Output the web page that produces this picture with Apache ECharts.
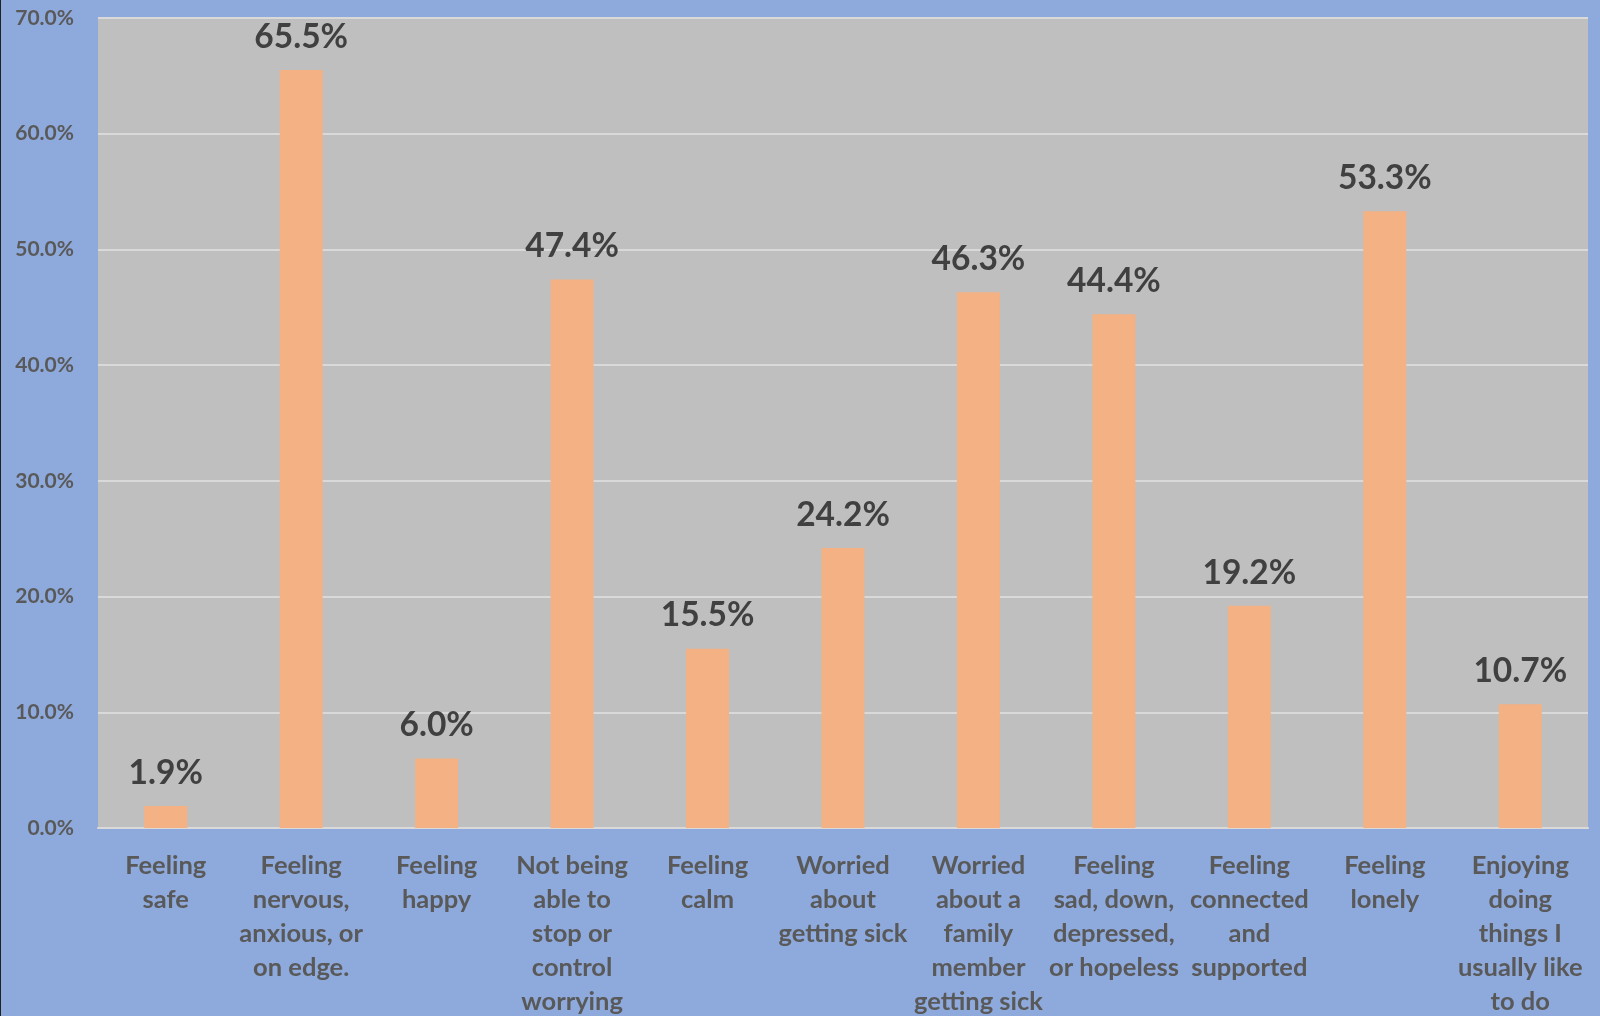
<!DOCTYPE html>
<html>
<head>
<meta charset="utf-8">
<script src="https://cdn.jsdelivr.net/npm/echarts@6/dist/echarts.min.js"></script>
<style>
html,body{margin:0;padding:0;background:#8EA9DB;}
#chart{width:1600px;height:1016px;}
</style>
</head>
<body>
<div id="chart"></div>
<script>
const categories = [
  "Feeling\nsafe",
  "Feeling\nnervous,\nanxious, or\non edge.",
  "Feeling\nhappy",
  "Not being\nable to\nstop or\ncontrol\nworrying",
  "Feeling\ncalm",
  "Worried\nabout\ngetting sick",
  "Worried\nabout a\nfamily\nmember\ngetting sick",
  "Feeling\nsad, down,\ndepressed,\nor hopeless",
  "Feeling\nconnected\nand\nsupported",
  "Feeling\nlonely",
  "Enjoying\ndoing\nthings I\nusually like\nto do"
];
const values = [1.9, 65.5, 6.0, 47.4, 15.5, 24.2, 46.3, 44.4, 19.2, 53.3, 10.7];
const yMin = 0, yMax = 70, yStep = 10;

const FONT = 'Lato, "Open Sans", sans-serif';
const chart = echarts.init(document.getElementById('chart'));
chart.setOption({
  backgroundColor: '#8EA9DB',
  animation: false,
  grid: {
    left: 98, right: 12, top: 18, bottom: 188,
    containLabel: false,
    outerBoundsMode: 'none',
    show: true, backgroundColor: '#BFBFBF', borderWidth: 0
  },
  xAxis: {
    type: 'category',
    data: categories,
    axisLine: { show: true, lineStyle: { color: '#D9D9D9', width: 2 } },
    axisTick: { show: false },
    axisLabel: {
      interval: 0,
      margin: 21,
      color: '#595959',
      fontFamily: FONT,
      fontWeight: 'bold',
      fontSize: 25.5,
      lineHeight: 34,
      align: 'center'
    }
  },
  yAxis: {
    type: 'value',
    min: yMin, max: yMax, interval: yStep,
    axisLine: { show: false },
    axisTick: { show: false },
    splitLine: { lineStyle: { color: '#D9D9D9', width: 2 } },
    axisLabel: {
      margin: 24,
      color: '#595959',
      fontFamily: FONT,
      fontWeight: 'bold',
      fontSize: 21,
      formatter: v => v.toFixed(1) + '%'
    }
  },
  series: [{
    type: 'bar',
    data: values,
    barWidth: 43,
    itemStyle: { color: '#F4B183' },
    label: {
      show: true,
      position: 'top',
      distance: 16,
      color: '#404040',
      fontFamily: FONT,
      fontWeight: 'bold',
      fontSize: 33.5,
      formatter: p => p.value.toFixed(1) + '%'
    }
  }],
  graphic: [{
    type: 'rect',
    shape: { x: 0, y: 0, width: 1, height: 1016 },
    style: { fill: '#222' }
  }]
});
</script>
</body>
</html>
